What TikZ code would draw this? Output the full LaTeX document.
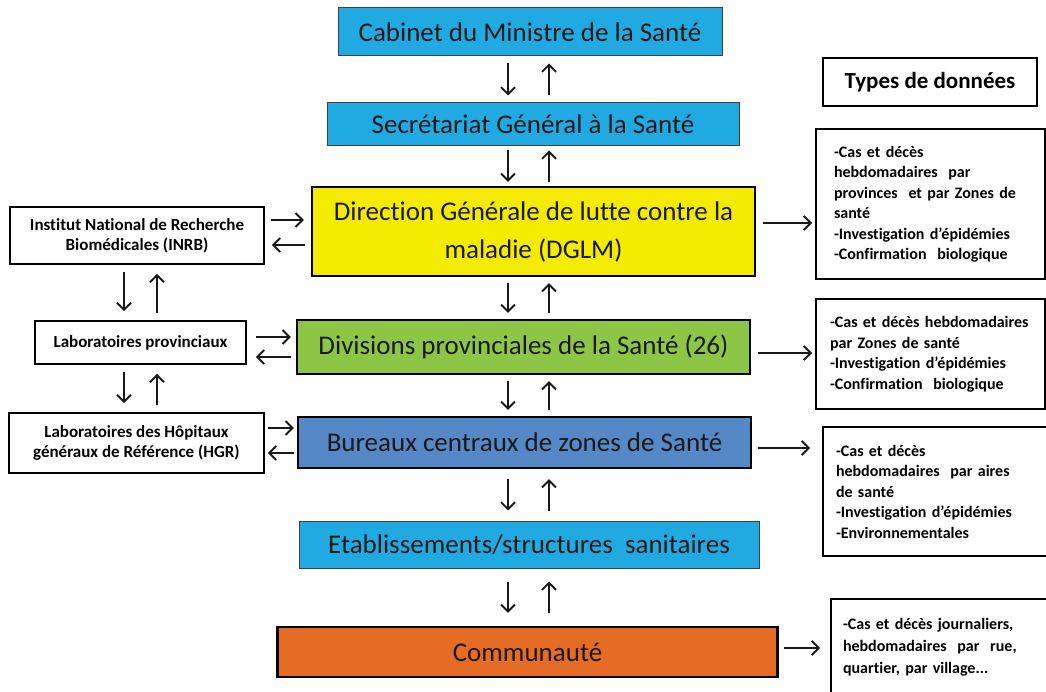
\documentclass[tikz,border=0pt]{standalone}
\usepackage{fontspec}
\setmainfont{Carlito}[Ligatures=NoCommon]
\usepackage[usenames,svgnames,dvipsnames]{xcolor}
\usetikzlibrary{arrows,arrows.meta}
\definecolor{ciel}{RGB}{33,170,225}
\definecolor{jaune}{RGB}{245,235,0}
\definecolor{vert}{RGB}{141,198,70}
\definecolor{bleu}{RGB}{84,136,198}
\definecolor{brique}{RGB}{228,108,36}

\begin{document}
\begin{tikzpicture}[x=1pt,y=-1pt,
    niveau/.style={draw=black!75, line width=1pt, text=black!90, inner sep=0pt,
      align=center, font=\fontsize{27}{38}\selectfont},
    fort/.style={niveau, draw=black, line width=2.2pt},
    labo/.style={draw=black, line width=1.8pt, inner sep=0pt, align=center,
      font=\bfseries\fontsize{17}{20}\selectfont},
    info/.style={draw=black, line width=2pt, anchor=north west, align=left,
      inner ysep=0pt, font=\bfseries\fontsize{16}{20.5}\selectfont},
    fl/.style={-{Straight Barb[length=7pt,width=14pt]}, line width=1.9pt, black!90}]
  \useasboundingbox (0,0) rectangle (1046,692);
  \clip (0,0) rectangle (1046,692);
  % Set up the chain of levels in the middle
  \node[niveau, fill=ciel, minimum width=384, minimum height=48] (cab) at (530,32) {Cabinet du Ministre de la Santé};
  \node[niveau, fill=ciel, minimum width=412, minimum height=43] (sec) at (533,124.5) {Secrétariat Général à la Santé};
  \node[fort, fill=jaune, minimum width=443, minimum height=89] (dglm) at (533.5,231.5) {Direction Générale de lutte contre la\\ maladie (DGLM)};
  \node[fort, fill=vert, minimum width=453, minimum height=54] (dps) at (523.5,347) {Divisions provinciales de la Santé (26)};
  \node[fort, fill=bleu, minimum width=453, minimum height=51] (bcz) at (524.5,442.5) {Bureaux centraux de zones de Santé};
  \node[niveau, fill=ciel, minimum width=460, minimum height=47] (fosa) at (529,544.5) {Etablissements/structures\ \ sanitaires};
  \node[fort, fill=brique, minimum width=500, minimum height=50] (com) at (527.5,652) {Communauté};

  % laboratories on the left
  \node[labo, minimum width=254, minimum height=57] (inrb) at (137,235.5) {Institut National de Recherche\\ Biomédicales (INRB)};
  \node[labo, minimum width=211, minimum height=43] (lp) at (140.5,342.5) {Laboratoires provinciaux};
  \node[labo, minimum width=255, minimum height=60] (hgr) at (136.5,443) {Laboratoires des Hôpitaux\\ généraux de Référence (HGR)};

  % types of data on the right
  \node[draw=black, line width=2pt, minimum width=214, minimum height=48,
    font=\bfseries\fontsize{23}{26}\selectfont] (types) at (930,82) {Types de données};
  \node[info, inner xsep=18pt, text width=193, minimum height=150] (t1) at (815,128)
    {-Cas et décès\\ hebdomadaires\ \ par\\ provinces\ \ et par Zones de\\ santé\\ -Investigation d’épidémies\\ -Confirmation\ \ biologique};
  \node[info, inner xsep=14pt, text width=201, minimum height=110] (t2) at (815,298)
    {-Cas et décès hebdomadaires\\ par Zones de santé\\ -Investigation d’épidémies\\ -Confirmation\ \ biologique};
  \node[info, inner xsep=13pt, text width=214, minimum height=129] (t3) at (822,426)
    {-Cas et décès\\ hebdomadaires\ \ par aires\\ de santé\\ -Investigation d’épidémies\\ -Environnementales};
  \node[info, inner xsep=12pt, text width=216, minimum height=96,
    font=\bfseries\fontsize{16}{22}\selectfont] (t4) at (830,598)
    {-Cas et décès journaliers,\\ hebdomadaires\ \ par\ \ rue,\\ quartier,\ par\ village...};

  \coordinate (gd) at (508,0);
  \coordinate (gu) at (549,0);
  \coordinate (ld) at (124,0);
  \coordinate (lu) at (157,0);
  \foreach \a/\b/\s in {cab/sec/7pt,sec/dglm/4pt,dglm/dps/6pt,dps/bcz/6pt,bcz/fosa/10pt,fosa/com/13pt}{
    \draw[fl, shorten <=\s, shorten >=\s] (\a.south -| gd) -- (\b.north -| gd);
    \draw[fl, shorten <=\s, shorten >=\s] (\b.north -| gu) -- (\a.south -| gu);
  }
  \foreach \a/\b in {inrb/lp,lp/hgr}{
    \draw[fl, shorten <=7pt, shorten >=9pt] (\a.south -| ld) -- (\b.north -| ld);
    \draw[fl, shorten <=7pt, shorten >=9pt] (\b.north -| lu) -- (\a.south -| lu);
  }

  \draw[fl, shorten <=6pt, shorten >=7pt] (inrb.east |- 0,220) -- (dglm.west |- 0,220);
  \draw[fl, shorten <=6pt, shorten >=7pt] (dglm.west |- 0,245) -- (inrb.east |- 0,245);
  \draw[fl, shorten <=9pt, shorten >=5pt] (lp.east |- 0,337) -- (dps.west |- 0,337);
  \draw[fl, shorten <=5pt, shorten >=9pt] (dps.west |- 0,357) -- (lp.east |- 0,357);
  \draw[fl, shorten <=3pt, shorten >=3pt] (hgr.east |- 0,428) -- (bcz.west |- 0,428);
  \draw[fl, shorten <=3pt, shorten >=3pt] (bcz.west |- 0,453) -- (hgr.east |- 0,453);

  \draw[fl, shorten <=7pt, shorten >=3pt] (dglm.east |- 0,223) -- (t1.west |- 0,223);
  \draw[fl, shorten <=7pt, shorten >=3pt] (dps.east |- 0,353) -- (t2.west |- 0,353);
  \draw[fl, shorten <=6pt, shorten >=12pt] (bcz.east |- 0,448) -- (t3.west |- 0,448);
  \draw[fl, shorten <=5pt, shorten >=10pt] (com.east |- 0,648) -- (t4.west |- 0,648);
\end{tikzpicture}
\end{document}
